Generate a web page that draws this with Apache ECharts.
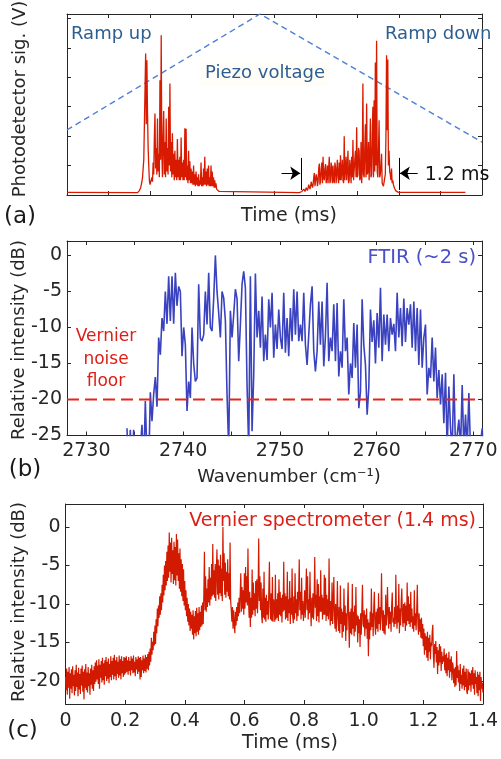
<!DOCTYPE html>
<html>
<head>
<meta charset="utf-8">
<script src="https://cdn.jsdelivr.net/npm/echarts@6/dist/echarts.min.js"></script>
<style>
html,body{margin:0;padding:0;background:#fff;}
#chart{width:501px;height:759px;}
</style>
</head>
<body>
<div id="chart"></div>
<script>
// ---------------- Panel (a): photodetector signal (arb. units) vs time (arb. units) ----------------
const pdTicksX = [1, 2, 3, 4, 5, 6, 7, 8, 9];
const pdTicksY = [1, 2, 3, 4, 5, 6];
const pdBaseline = 0.09;
const pdStart = 0, pdEnd = 9.6;
const pdStep = 0.015;
const pdBurst1Start = 1.70;
const pdBurst1 = [
  0.08,0.1,0.12,0.15,0.2,0.25,0.35,0.45,0.6,0.9,1.2,2.4,3.6,4.81,2.4,4.58,2.8,1.6,1.0,0.5,
  0.35,0.3,0.4,0.6,0.45,1.1,0.7,2.0,2.77,0.9,1.6,0.7,2.6,0.8,1.4,0.6,3.9,1.2,5.43,1.5,
  0.6,2.0,2.85,0.7,1.8,0.6,2.6,0.8,1.6,0.7,3.0,1.0,3.79,0.8,1.8,0.6,2.1,0.7,1.4,0.5,
  1.5,0.6,1.2,0.5,1.9,0.6,1.2,0.5,1.3,0.5,1.95,0.6,1.1,0.5,1.2,0.5,2.27,0.6,2.25,0.5,
  1.0,0.4,1.5,0.5,1.15,0.4,0.9,0.4,0.8,0.35,1.0,0.35,0.7,0.3,0.8,0.35,0.6,0.3,0.7,0.3,
  0.5,0.35,1.1,0.3,0.6,0.3,0.9,0.35,1.3,0.35,0.8,0.3,0.9,0.35,1.0,0.3,0.6,0.3,1.0,0.3,
  0.8,0.3,0.6,0.25,0.5,0.25,0.4,0.2,0.25,0.15,0.15,0.12,0.1,0.09,0.08];
const pdBurst2Start = 5.60;
const pdBurst2 = [
  0.08,0.09,0.1,0.1,0.12,0.14,0.15,0.2,0.2,0.12,0.15,0.25,0.3,0.15,0.2,0.35,0.4,0.2,0.3,0.45,
  0.5,0.25,0.35,0.6,0.75,0.3,0.35,0.7,0.6,0.3,0.45,0.9,1.07,0.35,0.5,0.9,1.1,0.4,1.3,0.6,
  0.5,0.9,1.05,0.4,0.6,1.0,0.4,0.9,1.3,0.4,0.5,1.1,0.9,0.4,1.0,0.5,0.4,1.1,0.95,0.4,
  0.8,1.2,0.6,0.4,1.1,0.5,1.35,0.5,0.8,1.2,0.5,0.4,2.0,0.5,0.9,1.3,0.5,0.9,1.5,0.4,
  0.5,1.2,0.9,0.4,1.3,0.6,1.87,0.5,0.5,1.2,1.5,0.6,2.3,0.6,0.7,1.6,1.5,0.5,0.6,1.8,
  0.4,0.9,3.79,0.7,0.6,1.6,2.4,0.6,3.11,0.7,0.8,1.8,0.5,1.2,2.6,0.6,0.7,2.0,3.0,0.6,
  3.22,0.8,4.5,1.0,5.24,0.8,0.6,1.5,2.54,0.6,0.7,1.0,1.4,0.4,0.4,0.3,0.3,0.35,0.7,2.0,
  4.75,2.2,4.6,1.0,1.5,0.8,0.7,0.5,0.9,0.4,0.5,0.35,0.3,0.22,0.18,0.14,0.12,0.1,0.1,0.09,
  0.08];
const piezoX = [0, 4.65, 10];
const piezoY = [2.21, 6.15, 1.8];
const spanMarks = [5.64, 8.0];      // the "1.2 ms" span markers
const spanMarkY = [0.17, 1.26];
const spanArrowY = 0.74;
const spanArrowTails = [5.17, 8.45];

// ---------------- Panel (b): FTIR spectrum ----------------
const ftirTicks = [2730, 2735, 2740, 2745, 2750, 2755, 2760, 2765, 2770];
const ftirLabels = [2730, 2740, 2750, 2760, 2770];
const dbTicksB = [-25, -20, -15, -10, -5, 0];
const ftirStart = 2734.2, ftirStep = 0.1724;
const ftirDb = [
  -24,-30,-24.2,-30,-24.2,-30,-30,-30,-30,-23.5,-30,-20.2,-28,-30,-19,-23,-19.3,-16.9,-21,-11.4,
  -13.8,-8.7,-10.5,-5,-9.5,-2.9,-9.1,-2.9,-9.5,-2.4,-7,-4.3,-5,-14,-10,-12.4,-21.6,-17.5,-19.8,-10,
  -15,-17.5,-17,-4,-11.5,-11.9,-11,-5,-9.6,-2.4,-10,-10.5,-6,0,-5,-8,-11.4,-5,-5.9,-9,
  -19.3,-27,-7.7,-11.4,-8.2,-4.7,-6,-14.7,-9.6,-4,-2.2,-4.5,-18,-27,
  -2.9,-24.4,-16.5,-2.5,-11.4,-7.7,-12.8,-5.7,-14.7,-11,-14.5,-6.1,-10,-5.2,-14.2,-9.6,-13,-7.5,-11.4,-13,
  -5.2,-13.5,-8.7,-14,-7.3,-11.9,-4.7,-11,-5,-11.9,-9.6,-11.9,-5.2,-12.4,-15.2,-11,-6.8,-4.3,-13.3,-16.1,
  -13.3,-6.4,-12.4,-6.4,-15.4,-11.2,-3.8,-14.7,-11.4,-13.3,-6.8,-14.7,-6.6,-16.8,-13.3,-15.6,-6.1,-13.3,-11.4,-19.3,
  -15,-17,-9.4,-15.6,-9.6,-21.2,-19,-6.1,-12.4,-15.2,-22.1,-18.4,
  -7.5,-12,-9,-15,-8,-12.8,-4.5,-14.7,-8.2,-12.4,-8.2,-13.3,-8.7,-11,-9.5,-13.3,-5.2,-11.4,-7.3,-12.6,
  -6,-12,-7.3,-9.6,-6.8,-12.8,-6.4,-13.3,-7.3,-15.2,-7.5,-15.6,-11.4,-9.6,-19.3,-15.6,-17,-11.4,-17.5,-12.8,
  -19.8,-15.9,-20.7,-16.5,-23.3,-16.3,-27,-18.2,-24,-27,-16.5,-27,-27,-22.8,-27,-18,-27,-22.1,-27,-19.1,
  -27,-30,-30,-30,-30,-30,-26,-24,-30];
const noiseFloorDb = -20;

// ---------------- Panel (c): Vernier spectrometer trace ----------------
const timeTicksC = [0, 0.2, 0.4, 0.6, 0.8, 1.0, 1.2, 1.4];
const dbTicksC = [-20, -15, -10, -5, 0];
const vernierStep = 0.002;
const vernierDb = [
  // 0.000 - 0.098
  -19.5,-21.2,-18.4,-21.8,-18.8,-20.9,-18.2,-22.3,-19.0,-21.0,-18.5,-21.6,-18.1,-20.7,-19.2,-21.9,-18.6,-21.3,-17.9,-20.8,
  -18.9,-22.0,-18.3,-21.1,-19.1,-21.7,-18.4,-20.6,-18.0,-21.4,-18.8,-22.4,-18.5,-20.9,-17.8,-21.2,-18.9,-21.5,-18.2,-20.7,
  -19.0,-21.8,-18.4,-20.5,-17.9,-21.0,-18.6,-21.3,-18.1,-20.4,
  // 0.100 - 0.198
  -17.6,-20.1,-17.3,-19.8,-18.0,-20.4,-17.2,-21.0,-17.9,-19.6,-17.4,-20.2,-17.0,-19.9,-17.7,-20.5,-17.3,-19.4,-16.9,-20.0,
  -17.5,-19.7,-17.1,-20.3,-17.8,-19.5,-16.8,-19.9,-17.4,-19.2,-17.0,-19.8,-16.6,-19.4,-17.3,-19.9,-16.9,-19.1,-17.5,-19.6,
  -16.7,-19.3,-17.2,-19.8,-16.8,-19.0,-17.4,-19.5,-16.9,-19.2,
  // 0.200 - 0.298
  -17.0,-19.0,-16.8,-18.8,-17.3,-19.2,-16.9,-18.7,-17.4,-19.3,-16.8,-18.6,-17.1,-19.0,-16.7,-18.9,-17.5,-19.4,-16.9,-18.5,
  -17.2,-19.1,-16.8,-18.8,-17.0,-19.8,-16.9,-19.5,-17.3,-18.6,-16.7,-19.0,-17.1,-18.7,-16.6,-18.9,-16.9,-18.4,-16.5,-18.6,
  -16.2,-18.0,-15.8,-17.5,-14.4,-16.6,-14.9,-16.0,-13.6,-15.4,
  // 0.300 - 0.398
  -12.8,-15.2,-12.0,-13.8,-10.6,-12.9,-10.2,-11.8,-9.0,-11.4,-8.6,-10.8,-7.5,-9.8,-6.2,-8.9,-5.0,-8.2,-4.4,-7.6,
  -3.2,-7.0,-2.4,-6.6,-0.7,-5.8,-2.0,-7.2,-1.4,-6.1,-3.0,-7.4,-1.9,-6.9,-2.6,-7.6,-0.9,-6.3,-1.6,-7.0,
  -3.4,-8.0,-2.8,-8.4,-4.2,-9.0,-4.8,-9.6,-5.5,-10.2,
  // 0.400 - 0.498
  -7.0,-10.8,-8.2,-11.6,-9.2,-12.3,-10.0,-12.8,-10.6,-13.5,-11.0,-13.2,-11.4,-14.0,-10.8,-14.6,-11.6,-13.8,-10.9,-14.2,
  -10.5,-13.6,-11.2,-14.0,-10.4,-13.4,-11.0,-13.0,-10.2,-12.8,-9.8,-12.6,-8.7,-3.2,-10.8,-6.4,-11.0,-8.0,-10.4,-6.8,
  -9.8,-5.2,-10.2,-6.6,-9.4,-4.8,-9.0,-2.2,-8.8,-5.6,
  // 0.500 - 0.598
  -9.2,-4.8,-9.6,-5.6,-2.9,-8.8,-4.2,-9.4,-5.0,-8.6,-3.6,-9.0,-5.4,-9.6,0,-7.0,-3.4,-8.8,-4.6,-9.2,
  -5.8,-8.4,-4.2,-9.0,-6.0,-9.4,-2.0,-9.6,-10.8,-12.3,-10.4,-13.2,-10.8,-12.6,-13.8,-11.0,-12.8,-10.4,-12.2,-9.8,
  -11.6,-9.2,-11.2,-8.6,-6.0,-11.0,-7.8,-10.6,-8.2,-11.4,
  // 0.600 - 0.698
  -6.0,-10.6,-5.2,-9.8,-6.4,-10.2,-2.8,-9.6,-11.8,-8.4,-13.0,-9.2,-11.8,-5.5,-11.4,-7.2,-10.8,-8.6,-11.6,-7.0,
  -10.6,-6.8,-11.2,-8.4,-1.5,-9.6,-6.4,-10.8,-7.2,-11.6,-12.5,-8.0,-11.8,-5.8,-12.0,-9.2,-12.3,-8.8,-11.4,-9.6,
  -12.0,-8.2,-4.5,-10.4,-12.0,-8.6,-12.2,-6.5,-12.3,-9.4,
  // 0.700 - 0.798
  -10.2,-12.3,-6.2,-12.0,-9.4,-11.8,-8.6,-12.2,-6.8,-11.4,-8.4,-11.6,-9.2,-12.4,-8.8,-11.0,-4.5,-10.8,-8.6,-12.0,
  -9.0,-11.8,-5.8,-12.2,-9.4,-11.2,-7.0,-12.6,-9.2,-11.4,-5.4,-11.6,-12.5,-9.0,-12.0,-6.0,-11.2,-9.4,-12.2,-8.4,
  -11.6,-8.8,-4.2,-10.8,-8.4,-12.0,-6.6,-11.4,-9.6,-12.2,
  // 0.800 - 0.898
  -10.7,-8.2,-11.8,-9.0,-5.4,-10.8,-6.4,-12.0,-9.4,-11.2,-5.8,-10.6,-12.9,-9.2,-11.8,-8.6,-12.0,-9.6,-3.9,-10.5,
  -8.8,-12.2,-6.8,-11.6,-7.4,-12.4,-9.0,-11.0,-5.6,-11.0,-8.8,-12.0,-9.2,-11.4,-6.2,-11.4,-6.6,-12.2,-8.8,-11.6,
  -9.4,-12.0,-4.1,-10.6,-12.8,-9.6,-12.2,-7.2,-12.6,-10.0,
  // 0.900 - 0.998
  -6.5,-11.4,-13.2,-10.0,-13.6,-11.2,-7.0,-12.0,-13.5,-10.4,-13.8,-7.6,-12.6,-10.6,-14.4,-11.0,-13.6,-8.0,-12.8,-10.2,
  -14.8,-11.2,-13.4,-10.0,-7.2,-12.4,-15.7,-11.0,-13.8,-10.6,-14.0,-7.4,-13.2,-11.0,-14.2,-10.2,-13.6,-7.8,-12.8,-11.4,
  -15.0,-11.6,-13.8,-12.0,-15.6,-11.2,-14.0,-10.8,-7.5,-12.6,
  // 1.000 - 1.098
  -13.0,-10.8,-14.2,-11.4,-13.2,-10.6,-14.5,-12.0,-16.8,-12.4,-14.6,-11.0,-13.4,-8.0,-13.0,-11.2,-14.2,-10.4,-8.4,-12.8,
  -14.0,-11.0,-13.2,-10.6,-13.6,-8.6,-12.6,-10.4,-13.4,-11.0,-6.0,-11.8,-13.5,-10.8,-13.8,-11.4,-14.0,-8.8,-12.8,-11.2,
  -7.8,-11.4,-13.2,-10.4,-12.6,-11.0,-13.6,-10.2,-8.5,-12.4,
  // 1.100 - 1.198
  -11.8,-13.0,-10.4,-12.6,-6.2,-11.8,-13.2,-10.2,-12.4,-7.4,-13.8,-10.6,-12.8,-9.6,-8.0,-11.6,-13.0,-10.0,-12.5,-9.8,
  -13.5,-10.2,-12.8,-7.2,-12.2,-9.0,-12.6,-10.0,-13.0,-8.4,-12.4,-10.6,-13.2,-11.6,-13.6,-8.2,-12.8,-11.2,-13.4,-10.8,
  -7.5,-12.6,-14.0,-11.2,-13.6,-12.0,-14.4,-11.8,-14.5,-12.6,
  // 1.200 - 1.298
  -15.5,-13.2,-16.6,-13.8,-16.0,-14.2,-17.0,-13.6,-17.4,-14.4,-16.2,-14.0,-17.2,-15.0,-15.5,-13.6,-12.7,-16.8,-18.3,-15.2,
  -16.5,-14.8,-17.6,-15.6,-19.1,-16.0,-18.0,-15.2,-17.6,-15.5,-18.7,-16.2,-17.8,-16.8,-17.5,-15.8,-18.6,-16.6,-19.0,-16.4,
  -19.4,-17.0,-18.6,-16.2,-19.6,-17.2,-18.8,-16.8,-19.9,-17.6,
  // 1.300 - 1.400
  -18.0,-20.3,-18.4,-20.8,-18.2,-20.6,-16.1,-19.6,-18.0,-20.2,-18.6,-21.3,-17.8,-20.4,-19.2,-21.0,-18.4,-20.6,-18.0,-21.2,
  -18.8,-20.8,-18.4,-21.4,-21.7,-18.5,-21.2,-18.8,-20.6,-19.0,-21.4,-18.6,-20.5,-18.2,-21.0,-19.0,-21.8,-18.6,-20.4,-19.5,
  -21.6,-18.8,-22.0,-19.2,-21.2,-18.8,-22.6,-19.5,-21.0,-20.2,-21.5];

// ---------------- build series data ----------------
const pdData = [[pdStart, pdBaseline]];
pdBurst1.forEach((v, i) => pdData.push([+(pdBurst1Start + i * pdStep).toFixed(4), v]));
pdBurst2.forEach((v, i) => pdData.push([+(pdBurst2Start + i * pdStep).toFixed(4), v]));
pdData.push([pdEnd, pdBaseline]);
const piezoData = piezoX.map((x, i) => [x, piezoY[i]]);
const ftirData = ftirDb.map((v, i) => [ftirStart + i * ftirStep, v]);
const vernierData = vernierDb.map((v, i) => [+(i * vernierStep).toFixed(4), v]);

const FONT = '"DejaVu Sans", Verdana, sans-serif';
const AX = '#262626';

function xAx(grid, pos, min, max, ticks, labels, opts) {
  opts = opts || {};
  return {
    type: 'value', gridIndex: grid, position: pos, min: min, max: max,
    axisLine: {show: true, onZero: false, lineStyle: {color: AX, width: 1}},
    axisTick: {show: true, inside: true, length: 4, customValues: ticks, lineStyle: {color: AX, width: 1}},
    axisLabel: labels ? {show: true, customValues: labels, color: AX, fontFamily: FONT, fontSize: 19,
      margin: opts.margin || 6, formatter: opts.fmt || (v => String(v))} : {show: false},
    splitLine: {show: false}
  };
}
function yAx(grid, pos, min, max, ticks, labels) {
  return {
    type: 'value', gridIndex: grid, position: pos, min: min, max: max,
    axisLine: {show: true, onZero: false, lineStyle: {color: AX, width: 1}},
    axisTick: {show: true, inside: true, length: 4, customValues: ticks, lineStyle: {color: AX, width: 1}},
    axisLabel: labels ? {show: true, customValues: labels, color: AX, fontFamily: FONT, fontSize: 19, margin: 5,
      formatter: v => String(v)} : {show: false},
    splitLine: {show: false}
  };
}

function txt(x, y, text, size, color, align, extra) {
  const e = {
    type: 'text', x: x, y: y, z: 100, silent: true,
    style: {text: text, fill: color, font: size + 'px ' + FONT,
      align: align || 'center', textAlign: align || 'center',
      verticalAlign: 'middle', textVerticalAlign: 'middle'}
  };
  if (extra) {
    if (extra.rotation !== undefined) e.rotation = extra.rotation;
    if (extra.bg) { e.style.backgroundColor = extra.bg; e.style.padding = [3, 4]; }
  }
  return e;
}

const BLUE_TXT = '#2d5e90';
const RED_TXT = '#dc1f16';

const option = {
  animation: false,
  backgroundColor: '#ffffff',
  textStyle: {fontFamily: FONT},
  grid: [
    {left: 67, top: 14, width: 415, height: 181},
    {left: 67, top: 241, width: 415, height: 194.5},
    {left: 65.5, top: 504, width: 418.5, height: 200}
  ],
  xAxis: [
    xAx(0, 'bottom', 0, 10, pdTicksX, null),
    xAx(0, 'top', 0, 10, pdTicksX, null),
    xAx(1, 'bottom', 2728, 2770.9, ftirTicks, ftirLabels, {margin: 6}),
    xAx(1, 'top', 2728, 2770.9, ftirTicks, null),
    xAx(2, 'bottom', 0, 1.4, timeTicksC, timeTicksC, {margin: 8, fmt: v => (Math.abs(v) < 1e-9 ? '0' : (+v).toFixed(1))}),
    xAx(2, 'top', 0, 1.4, timeTicksC, null)
  ],
  yAxis: [
    yAx(0, 'left', 0, 6.15, pdTicksY, null),
    yAx(0, 'right', 0, 6.15, pdTicksY, null),
    yAx(1, 'left', -25, 2, dbTicksB, dbTicksB),
    yAx(1, 'right', -25, 2, dbTicksB, null),
    yAx(2, 'left', -23, 3, dbTicksC, dbTicksC),
    yAx(2, 'right', -23, 3, dbTicksC, null)
  ],
  series: [
    {
      type: 'line', name: 'Piezo voltage', xAxisIndex: 0, yAxisIndex: 0, data: piezoData,
      symbol: 'none', z: 2, lineStyle: {color: '#4f80d6', width: 1.4, type: [6, 4]}
    },
    {
      type: 'line', name: 'Photodetector signal', xAxisIndex: 0, yAxisIndex: 0, data: pdData,
      symbol: 'none', z: 3, lineStyle: {color: '#d81b00', width: 1.3, join: 'bevel'},
      markLine: {
        silent: true, symbolSize: 10, label: {show: false},
        lineStyle: {color: '#000', width: 1, type: 'solid'},
        emphasis: {disabled: true},
        data: [
          [{coord: [spanMarks[0], spanMarkY[0]], symbol: 'none'}, {coord: [spanMarks[0], spanMarkY[1]], symbol: 'none'}],
          [{coord: [spanMarks[1], spanMarkY[0]], symbol: 'none'}, {coord: [spanMarks[1], spanMarkY[1]], symbol: 'none'}],
          [{coord: [spanArrowTails[0], spanArrowY], symbol: 'none'}, {coord: [spanMarks[0] - 0.02, spanArrowY], symbol: 'arrow'}],
          [{coord: [spanArrowTails[1], spanArrowY], symbol: 'none'}, {coord: [spanMarks[1] + 0.02, spanArrowY], symbol: 'arrow'}]
        ]
      }
    },
    {
      type: 'line', name: 'FTIR', xAxisIndex: 2, yAxisIndex: 2, data: ftirData,
      symbol: 'none', z: 3, lineStyle: {color: '#3a42c0', width: 1.6, join: 'bevel'}
    },
    {
      type: 'line', name: 'Vernier noise floor', xAxisIndex: 2, yAxisIndex: 2,
      data: [[2728, noiseFloorDb], [2770.9, noiseFloorDb]],
      symbol: 'none', z: 4, lineStyle: {color: '#e3261d', width: 2, type: [12, 6]}
    },
    {
      type: 'line', name: 'Vernier spectrometer', xAxisIndex: 4, yAxisIndex: 4, data: vernierData,
      symbol: 'none', z: 3, lineStyle: {color: '#d21a00', width: 1.2, join: 'bevel'}
    }
  ],
  graphic: [
    // panel (a)
    txt(20, 99, 'Photodetector sig. (V)', 18, AX, 'center', {rotation: Math.PI / 2}),
    txt(289, 216, 'Time (ms)', 19, AX, 'center'),
    txt(20, 217, '(a)', 23, '#1a1a1a', 'center'),
    txt(71, 34, 'Ramp up', 18, BLUE_TXT, 'left'),
    txt(385, 34, 'Ramp down', 18, BLUE_TXT, 'left'),
    txt(265, 73.5, 'Piezo voltage', 18, BLUE_TXT, 'center', {bg: '#fefdf8'}),
    txt(457, 175, '1.2 ms', 19, '#111', 'center'),
    // panel (b)
    txt(19.5, 340, 'Relative intensity (dB)', 18, AX, 'center', {rotation: Math.PI / 2}),
    txt(289, 477, 'Wavenumber (cm\u207B\u00B9)', 18, AX, 'center'),
    txt(25, 470, '(b)', 23, '#1a1a1a', 'center'),
    txt(476, 258, 'FTIR (~2 s)', 19.5, '#4a50c6', 'right'),
    txt(106, 336.5, 'Vernier', 17, RED_TXT, 'center'),
    txt(106, 359.5, 'noise', 17, RED_TXT, 'center'),
    txt(106, 382, 'floor', 17, RED_TXT, 'center'),
    // panel (c)
    txt(19, 602, 'Relative intensity (dB)', 18, AX, 'center', {rotation: Math.PI / 2}),
    txt(290, 743, 'Time (ms)', 19, AX, 'center'),
    txt(22.5, 731, '(c)', 23, '#1a1a1a', 'center'),
    txt(476, 521.5, 'Vernier spectrometer (1.4 ms)', 19, RED_TXT, 'right')
  ]
};

const chart = echarts.init(document.getElementById('chart'), null, {renderer: 'canvas'});
chart.setOption(option);
</script>
</body>
</html>
